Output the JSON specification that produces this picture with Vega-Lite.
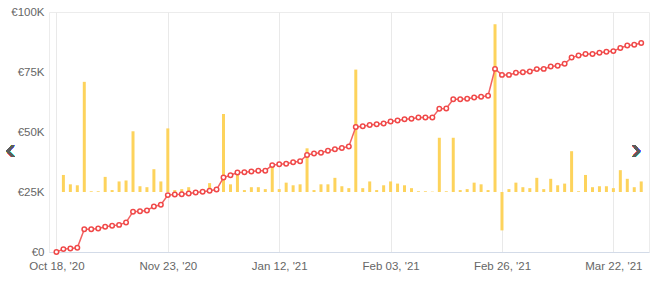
{
  "$schema": "https://vega.github.io/schema/vega-lite/v6.json",
  "width": 600,
  "height": 240,
  "autosize": {"type": "none"},
  "padding": {"left": 49, "top": 12, "right": 6, "bottom": 36},
  "background": "white",
  "config": {"view": {"stroke": "#ececec"}, "font": "Liberation Sans"},
  "data": {"values": [
    {"i":0,"total":0,"bar":null},
    {"i":1,"total":1200,"bar":7100},
    {"i":2,"total":1500,"bar":3200},
    {"i":3,"total":1800,"bar":2800},
    {"i":4,"total":9500,"bar":45900},
    {"i":5,"total":9500,"bar":300},
    {"i":6,"total":9800,"bar":300},
    {"i":7,"total":10500,"bar":6300},
    {"i":8,"total":10900,"bar":800},
    {"i":9,"total":11300,"bar":4400},
    {"i":10,"total":12300,"bar":4800},
    {"i":11,"total":16800,"bar":25300},
    {"i":12,"total":17000,"bar":2400},
    {"i":13,"total":17300,"bar":2000},
    {"i":14,"total":19000,"bar":9500},
    {"i":15,"total":19700,"bar":4400},
    {"i":16,"total":23700,"bar":26500},
    {"i":17,"total":24000,"bar":800},
    {"i":18,"total":24100,"bar":1200},
    {"i":19,"total":24400,"bar":2000},
    {"i":20,"total":24800,"bar":800},
    {"i":21,"total":25100,"bar":1200},
    {"i":22,"total":25500,"bar":3700},
    {"i":23,"total":26000,"bar":1600},
    {"i":24,"total":31000,"bar":32500},
    {"i":25,"total":32000,"bar":3200},
    {"i":26,"total":33100,"bar":7800},
    {"i":27,"total":33200,"bar":800},
    {"i":28,"total":33500,"bar":2000},
    {"i":29,"total":33900,"bar":2000},
    {"i":30,"total":33900,"bar":1200},
    {"i":31,"total":36200,"bar":10600},
    {"i":32,"total":36600,"bar":1200},
    {"i":33,"total":36800,"bar":3900},
    {"i":34,"total":37400,"bar":2800},
    {"i":35,"total":37800,"bar":3200},
    {"i":36,"total":40400,"bar":18200},
    {"i":37,"total":41000,"bar":800},
    {"i":38,"total":41400,"bar":3200},
    {"i":39,"total":42200,"bar":3200},
    {"i":40,"total":42800,"bar":5900},
    {"i":41,"total":43300,"bar":2400},
    {"i":42,"total":44000,"bar":1600},
    {"i":43,"total":52100,"bar":51000},
    {"i":44,"total":52400,"bar":1600},
    {"i":45,"total":52900,"bar":4400},
    {"i":46,"total":53200,"bar":800},
    {"i":47,"total":53500,"bar":2800},
    {"i":48,"total":54400,"bar":4400},
    {"i":49,"total":54800,"bar":3500},
    {"i":50,"total":55300,"bar":2800},
    {"i":51,"total":55500,"bar":1600},
    {"i":52,"total":56000,"bar":300},
    {"i":53,"total":56000,"bar":300},
    {"i":54,"total":56000,"bar":150},
    {"i":55,"total":59700,"bar":22600},
    {"i":56,"total":59800,"bar":300},
    {"i":57,"total":63600,"bar":22600},
    {"i":58,"total":63600,"bar":800},
    {"i":59,"total":63900,"bar":1200},
    {"i":60,"total":64400,"bar":3900},
    {"i":61,"total":64700,"bar":3200},
    {"i":62,"total":65100,"bar":800},
    {"i":63,"total":76300,"bar":69900},
    {"i":64,"total":73800,"bar":-16000},
    {"i":65,"total":73800,"bar":1200},
    {"i":66,"total":74700,"bar":3900},
    {"i":67,"total":74900,"bar":2000},
    {"i":68,"total":75200,"bar":1600},
    {"i":69,"total":76200,"bar":5900},
    {"i":70,"total":76300,"bar":1200},
    {"i":71,"total":77300,"bar":5500},
    {"i":72,"total":77600,"bar":2800},
    {"i":73,"total":78400,"bar":3500},
    {"i":74,"total":81000,"bar":17000},
    {"i":75,"total":81900,"bar":300},
    {"i":76,"total":82500,"bar":7100},
    {"i":77,"total":82500,"bar":2000},
    {"i":78,"total":83000,"bar":2400},
    {"i":79,"total":83400,"bar":2400},
    {"i":80,"total":83700,"bar":1600},
    {"i":81,"total":85000,"bar":9100},
    {"i":82,"total":86000,"bar":5500},
    {"i":83,"total":86400,"bar":2000},
    {"i":84,"total":87100,"bar":4400}
  ]},
  "encoding": {
    "x": {
      "field": "i",
      "type": "quantitative",
      "scale": {"domain": [-0.35, 84.4], "nice": false, "zero": false},
      "axis": {
        "values": [0, 16, 32, 48, 64, 80],
        "labelExpr": "datum.value == 0 ? \"Oct 18, '20\" : datum.value == 16 ? \"Nov 23, '20\" : datum.value == 32 ? \"Jan 12, '21\" : datum.value == 48 ? \"Feb 03, '21\" : datum.value == 64 ? \"Feb 26, '21\" : \"Mar 22, '21\"",
        "grid": true,
        "gridColor": "#e9e9e9",
        "ticks": false,
        "domainColor": "#d3dbe8",
        "labelColor": "#666666",
        "labelFontSize": 11.5,
        "labelPadding": 8,
        "labelFlush": false,
        "labelOverlap": false,
        "title": null
      }
    }
  },
  "layer": [
    {
      "mark": {"type": "bar", "size": 3, "color": "#fdd35c"},
      "encoding": {
        "y": {"field": "bar", "type": "quantitative", "scale": {"domain": [-25000, 75000], "nice": false, "zero": false}, "axis": null},
        "y2": {"datum": 0}
      }
    },
    {
      "mark": {
        "type": "line",
        "color": "#f26262",
        "strokeWidth": 1.5,
        "point": {"filled": false, "fill": "white", "stroke": "#f04848", "size": 20, "strokeWidth": 1.5}
      },
      "encoding": {
        "y": {
          "field": "total",
          "type": "quantitative",
          "scale": {"domain": [0, 100000], "nice": false, "zero": false},
          "axis": {
            "values": [0,5000,10000,15000,20000,25000,30000,35000,40000,45000,50000,55000,60000,65000,70000,75000,80000,85000,90000,95000,100000],
            "labelExpr": "datum.value % 25000 == 0 ? (datum.value == 0 ? '€0' : '€' + datum.value / 1000 + 'K') : ''",
            "gridColor": {"condition": {"test": "datum.value % 25000 == 0", "value": "#e3e3e3"}, "value": "#f3f3f3"},
            "domain": false,
            "ticks": false,
            "labelColor": "#666666",
            "labelFontSize": 11.5,
            "labelPadding": 5,
            "title": null
          }
        }
      }
    },
    {
      "mark": {"type": "text", "text": "‹", "fontSize": 30, "color": "#5c5c5c", "baseline": "middle", "align": "center", "dy": -2},
      "encoding": {
        "x": {"datum": -6.6},
        "y": {"datum": 41700, "scale": {"domain": [0, 100000], "nice": false, "zero": false}, "axis": null}
      }
    },
    {
      "mark": {"type": "text", "text": "›", "fontSize": 30, "color": "#5c5c5c", "baseline": "middle", "align": "center", "dy": -2},
      "encoding": {
        "x": {"datum": 83.3},
        "y": {"datum": 41700, "scale": {"domain": [0, 100000], "nice": false, "zero": false}, "axis": null}
      }
    }
  ],
  "resolve": {"scale": {"y": "independent"}}
}
